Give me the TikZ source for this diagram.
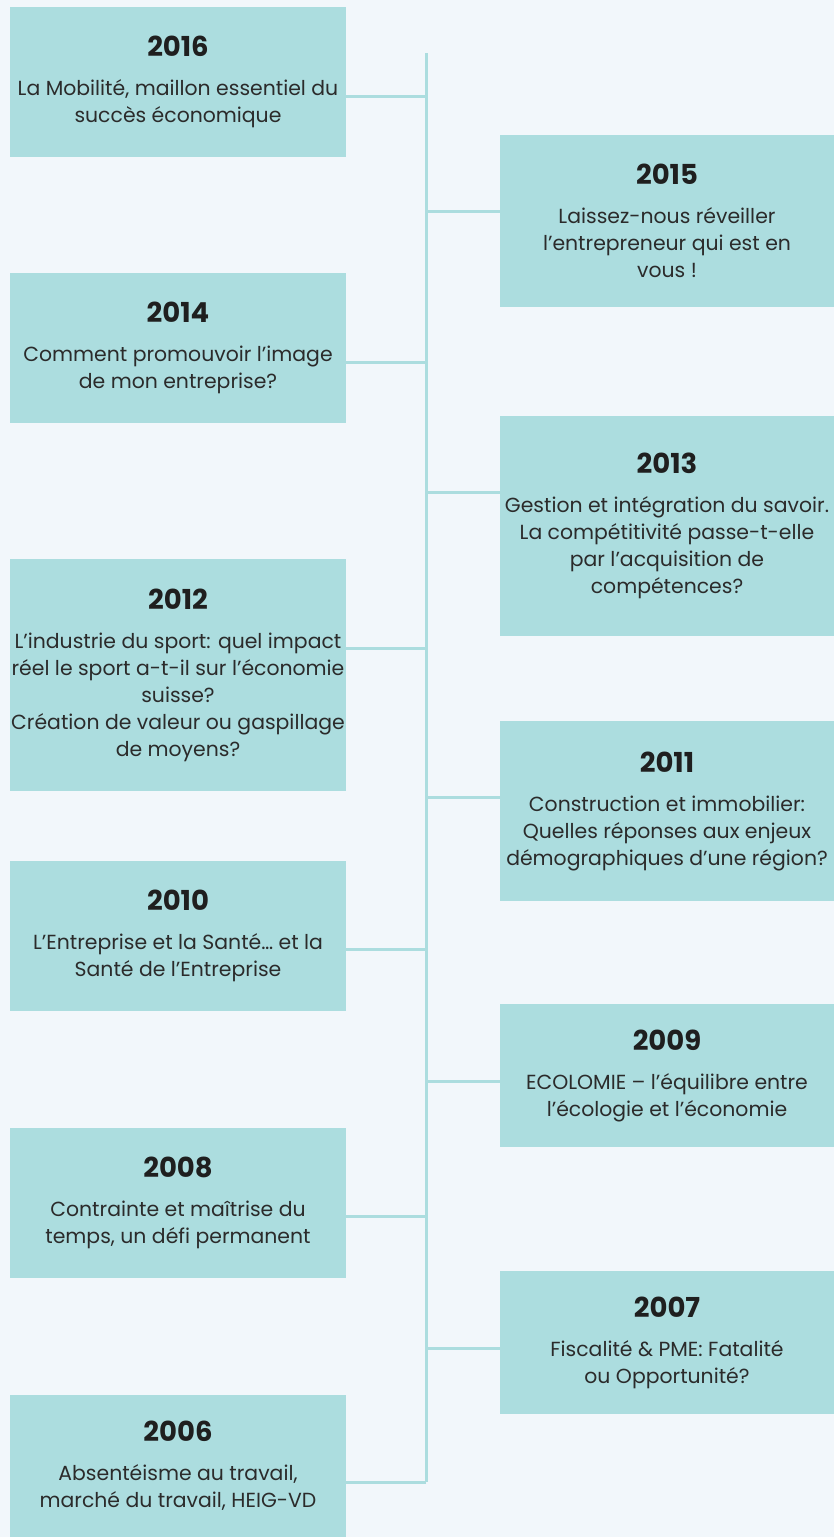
\documentclass[tikz,border=0pt]{standalone}
\usepackage{fontspec}
\setmainfont{Poppins}
\definecolor{bgpale}{HTML}{F2F7FB}
\definecolor{boxteal}{HTML}{ACDDDF}
\definecolor{inkgray}{HTML}{2B2B2B}
\newcommand{\yr}[1]{{\fontsize{27.5}{27}\selectfont\bfseries\color{black!88} #1}}
\tikzset{
  yearbox/.style={rectangle, fill=boxteal, inner sep=0pt, align=center,
                  text=inkgray, font=\fontsize{20.4}{27}\selectfont},
  spine/.style={draw=boxteal, line width=3pt},
}
\begin{document}
\begin{tikzpicture}[x=1pt,y=-1pt]
\fill[bgpale] (0,0) rectangle (834,1537);
\useasboundingbox (0,0) rectangle (834,1537);

% left column
\node[yearbox, minimum width=336pt, minimum height=150pt] (b2016) at (178,82)
  {\yr{2016}\\[12pt]La Mobilité, maillon essentiel du\\succès économique};
\node[yearbox, minimum width=336pt, minimum height=150pt] (b2014) at (178,348)
  {\yr{2014}\\[12pt]Comment promouvoir l’image\\de mon entreprise?};
\node[yearbox, minimum width=336pt, minimum height=232pt] (b2012) at (178,675)
  {\yr{2012}\\[12pt]L’industrie du sport: quel impact\\réel le sport a-t-il sur l’économie\\suisse?\\Création de valeur ou gaspillage\\de moyens?};
\node[yearbox, minimum width=336pt, minimum height=150pt] (b2010) at (178,936)
  {\yr{2010}\\[12pt]L’Entreprise et la Santé… et la\\Santé de l’Entreprise};
\node[yearbox, minimum width=336pt, minimum height=150pt] (b2008) at (178,1203)
  {\yr{2008}\\[12pt]Contrainte et maîtrise du\\temps, un défi permanent};
\node[yearbox, minimum width=336pt, minimum height=142pt] (b2006) at (178,1466)
  {\yr{2006}\\[12pt]Absentéisme au travail,\\marché du travail, HEIG-VD};

% right column
\node[yearbox, minimum width=334pt, minimum height=172pt] (b2015) at (667,221)
  {\yr{2015}\\[12pt]Laissez-nous réveiller\\l’entrepreneur qui est en\\vous !};
\node[yearbox, minimum width=334pt, minimum height=220pt] (b2013) at (667,526)
  {\yr{2013}\\[12pt]Gestion et intégration du savoir.\\La compétitivité passe-t-elle\\par l’acquisition de\\compétences?};
\node[yearbox, minimum width=334pt, minimum height=180pt] (b2011) at (667,811)
  {\yr{2011}\\[12pt]Construction et immobilier:\\Quelles réponses aux enjeux\\démographiques d’une région?};
\node[yearbox, minimum width=334pt, minimum height=143pt] (b2009) at (667,1075.5)
  {\yr{2009}\\[12pt]ECOLOMIE – l’équilibre entre\\l’écologie et l’économie};
\node[yearbox, minimum width=334pt, minimum height=143pt] (b2007) at (667,1342.5)
  {\yr{2007}\\[12pt]Fiscalité \& PME: Fatalité\\ou Opportunité?};

% spine and joints
\coordinate (spinetop) at (426,53);
\path (spinetop) +(0,43)   coordinate (j2016)
                 +(0,158)  coordinate (j2015)
                 +(0,309)  coordinate (j2014)
                 +(0,439)  coordinate (j2013)
                 +(0,595)  coordinate (j2012)
                 +(0,744)  coordinate (j2011)
                 +(0,896)  coordinate (j2010)
                 +(0,1028) coordinate (j2009)
                 +(0,1163) coordinate (j2008)
                 +(0,1295) coordinate (j2007)
                 +(0,1429) coordinate (j2006)
;
\draw[spine] (spinetop) -- (j2006);

\foreach \x in {2016,2014,2012,2010,2008,2006}
  {\draw[spine] (j\x) -- (j\x -| b\x.east);}
\foreach \x in {2015,2013,2011,2009,2007}
  {\draw[spine] (j\x) -- (j\x -| b\x.west);}

\end{tikzpicture}
\end{document}
